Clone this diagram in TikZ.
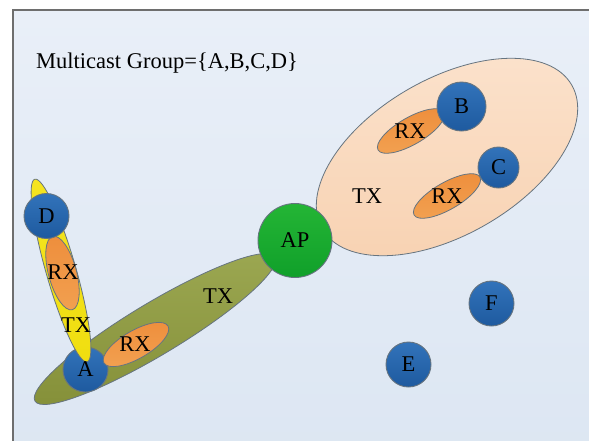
\documentclass[tikz,border=0pt]{standalone}
\usepackage{fontspec}
\setmainfont{Liberation Serif}
\usetikzlibrary{shapes.geometric}
\definecolor{framegray}{HTML}{6E6E6E}
\definecolor{bgT}{HTML}{E9EFF8}
\definecolor{bgB}{HTML}{DCE6F2}
\definecolor{edgegray}{HTML}{667480}
\definecolor{blueT}{HTML}{3273BA}
\definecolor{blueB}{HTML}{1E5A9F}
\definecolor{greenT}{HTML}{24B535}
\definecolor{greenB}{HTML}{10A02A}
\definecolor{oliveT}{HTML}{9CA852}
\definecolor{oliveB}{HTML}{86913A}
\definecolor{yellowT}{HTML}{F5E420}
\definecolor{yellowB}{HTML}{F0DE10}
\definecolor{orangeT}{HTML}{EE8E3C}
\definecolor{orangeB}{HTML}{F2A050}
\definecolor{peachT}{HTML}{FBE2CC}
\definecolor{peachB}{HTML}{F8D2B2}
\begin{document}
\begin{tikzpicture}[x=1pt,y=-1pt,
  lbl/.style={font=\fontsize{22.5}{25}\selectfont, inner sep=0pt, text=black},
  blob/.style={ellipse, draw=edgegray, line width=0.8pt, inner sep=0pt},
  sta/.style={circle, draw=edgegray, line width=0.9pt, top color=blueT, bottom color=blueB, inner sep=0pt, minimum size=45pt},
  rxblob/.style={blob, top color=orangeT, bottom color=orangeB}]
\useasboundingbox (0,0) rectangle (589,440);
\fill[white] (0,0) rectangle (589,440);
\begin{scope}
\clip (0,0) rectangle (589,440);
\draw[draw=framegray, line width=2.2pt, top color=bgT, bottom color=bgB] (13,10) rectangle (620,470);
\end{scope}
% title
\node[lbl, anchor=base west] (title) at (36,68) {Multicast Group=\{A,B,C,D\}};
% pink TX region
\node[blob, top color=peachT, bottom color=peachB, minimum width=288pt, minimum height=156pt, rotate=30] (txbc) at (447,157) {};
\node[rxblob, minimum width=76pt, minimum height=27pt, rotate=30] (rxb) at (411,131) {};
\node[rxblob, minimum width=76pt, minimum height=27pt, rotate=30] (rxc) at (447,196) {};
\node[sta, minimum size=49pt] (B) at (461.5,106.5) {};
\node[sta, minimum size=41pt] (C) at (498.5,167.5) {};
% olive TX region
\node[blob, top color=oliveT, bottom color=oliveB, minimum width=280pt, minimum height=52pt, rotate=31] (txa) at (155,329) {};
\node[circle, draw=edgegray, line width=0.9pt, top color=greenT, bottom color=greenB, inner sep=0pt, minimum size=74pt] (AP) at (295,240.5) {};
\node[sta] (A) at (85.5,369.5) {};
\node[rxblob, minimum width=74pt, minimum height=28pt, rotate=30] (rxa) at (136,344.5) {};
% yellow TX region
\node[blob, top color=yellowT, bottom color=yellowB, minimum width=190pt, minimum height=30pt, rotate=-74] (txd) at (61,270.5) {};
\node[rxblob, minimum width=76pt, minimum height=28pt, rotate=-75] (rxd) at (62.5,273) {};
\node[sta] (D) at (46.5,216) {};
\node[sta] (E) at (408.5,364.5) {};
\node[sta] (F) at (491.5,303.5) {};
% labels
\node[lbl] at (B) {B};
\node[lbl] at (C) {C};
\node[lbl] at (A) {A};
\node[lbl] at (D) {D};
\node[lbl] at (E) {E};
\node[lbl] at (F) {F};
\node[lbl] at (AP) {AP};
\node[lbl] at (410,131) {RX};
\node[lbl] at (447,196) {RX};
\node[lbl] at (135,344) {RX};
\node[lbl] at (63,272) {RX};
\node[lbl] at (367,196) {TX};
\node[lbl] at (218,296) {TX};
\node[lbl] at (76,325) {TX};
\end{tikzpicture}
\end{document}
